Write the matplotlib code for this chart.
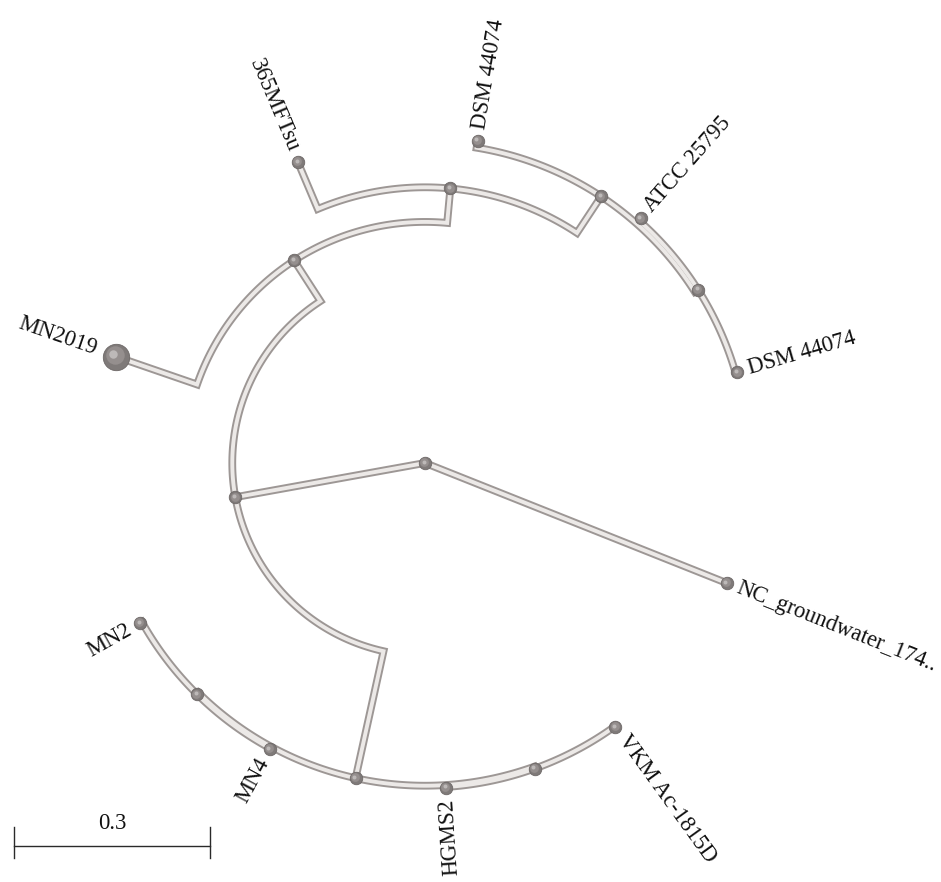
import numpy as np
import matplotlib
matplotlib.use("Agg")
import matplotlib.pyplot as plt

# ---- tree data -------------------------------------------------------------
# node ids, their parents and branch lengths (substitutions per site)
node_ids = ["root", "n1", "t_nc", "n2", "n7", "t_mn2019", "n3", "t_365",
            "n4", "t_dsm1", "n5", "t_atcc", "t_dsm2", "n8", "n9",
            "t_mn2", "t_mn4", "t_hgms2", "t_vkm"]
parents = [None, "root", "root", "n1", "n1", "n2", "n2", "n3",
           "n3", "n4", "n4", "n5", "n5", "n7", "n7",
           "n8", "n8", "n9", "n9"]
branch_lengths = [0.0, 0.295, 0.497, 0.074, 0.199, 0.131, 0.053, 0.078,
                  0.067, 0.011, 0.006, 0.004, 0.003, 0.003, 0.003,
                  0.003, 0.001, 0.001, 0.001]

# leaves: label text and angular position (degrees, counter-clockwise)
tip_ids = ["t_nc", "t_dsm2", "t_atcc", "t_dsm1", "t_365", "t_mn2019",
           "t_mn2", "t_mn4", "t_hgms2", "t_vkm"]
tip_labels = ["NC_groundwater_174..", "DSM 44074", "ATCC 25795", "DSM 44074",
              "365MFTsu", "MN2019", "MN2", "MN4", "HGMS2", "VKM Ac-1815D"]
tip_angles = [338.3, 16.2, 48.6, 80.7, 112.9, 161.0, 209.3, 241.5, 273.7, 305.8]

scale_bar_length = 0.3

# ---- layout ----------------------------------------------------------------
parent_of = dict(zip(node_ids, parents))
blen = dict(zip(node_ids, branch_lengths))
children = {n: [c for c in node_ids if parent_of[c] == n] for n in node_ids}

radius = {}
for n in node_ids:
    p = parent_of[n]
    radius[n] = 0.0 if p is None else radius[p] + blen[n]

angle = dict(zip(tip_ids, tip_angles))


def node_angle(n):
    if n in angle:
        return angle[n]
    ch = [node_angle(c) for c in children[n]]
    angle[n] = 0.5 * (min(ch) + max(ch))
    return angle[n]


for n in node_ids:
    node_angle(n)


def xy(r, a_deg):
    a = np.deg2rad(a_deg)
    return r * np.cos(a), r * np.sin(a)


# ---- figure ----------------------------------------------------------------
fig = plt.figure(figsize=(9.41, 8.82), dpi=100)
ax = fig.add_axes([0, 0, 1, 1])
ax.set_xlim(-0.6505, 0.7898)
ax.set_ylim(-0.6414, 0.7087)
ax.set_aspect("equal")
ax.axis("off")

tube_edge = "#9d9795"
tube_core = "#ece9e7"

for n in node_ids:
    p = parent_of[n]
    if p is None:
        continue
    rp, ap = radius[p], angle[p]
    rc, ac = radius[n], angle[n]
    if rp == 0:
        xs, ys = zip(xy(0, ac), xy(rc, ac))
    else:
        arc = np.linspace(ap, ac, 80)
        xs = list(rp * np.cos(np.deg2rad(arc))) + [xy(rc, ac)[0]]
        ys = list(rp * np.sin(np.deg2rad(arc))) + [xy(rc, ac)[1]]
    ax.plot(xs, ys, color=tube_edge, lw=5.6, solid_joinstyle="miter",
            solid_capstyle="round", zorder=2)
    ax.plot(xs, ys, color=tube_core, lw=2.8, solid_joinstyle="miter",
            solid_capstyle="round", zorder=3)

# shaded balls on every node
for n in node_ids:
    x, y = xy(radius[n], angle[n])
    big = n == "t_mn2019"
    ms = 19.0 if big else 9.0
    d = (0.0045 if big else 0.002)
    ax.plot(x, y, "o", ms=ms, mfc="#7f7a79", mec="#6d6867", mew=0.6, zorder=5)
    ax.plot(x - d * 0.5, y + d * 0.5, "o", ms=ms * 0.7, mfc="#958f8e",
            mec="none", zorder=6)
    ax.plot(x - d, y + d, "o", ms=ms * 0.32, mfc="#bdb9b8", mec="none", zorder=7)

# leaf labels
for tid, lab in zip(tip_ids, tip_labels):
    a = angle[tid] % 360
    big = tid == "t_mn2019"
    off = 0.032 if big else 0.018
    x, y = xy(radius[tid] + off, a)
    if 90 < a < 285:
        rot, ha = a - 180, "right"
    else:
        rot, ha = (a if a <= 90 else a - 360), "left"
    ax.text(x, y, lab, rotation=rot, rotation_mode="anchor", ha=ha,
            va="center", fontsize=16.3, family="Liberation Serif",
            color="#111111", zorder=8)

# scale bar
sx0, sy = -0.629, -0.586
ax.plot([sx0, sx0 + scale_bar_length], [sy, sy], color="#2a2a2a", lw=1.0)
for sx in (sx0, sx0 + scale_bar_length):
    ax.plot([sx, sx], [sy + 0.029, sy - 0.018], color="#2a2a2a", lw=1.0)
ax.text(sx0 + scale_bar_length / 2, sy + 0.034, f"{scale_bar_length:g}",
        ha="center", va="center", fontsize=16.3, family="Liberation Serif",
        color="#111111")

fig.savefig("out.png", dpi=100)
